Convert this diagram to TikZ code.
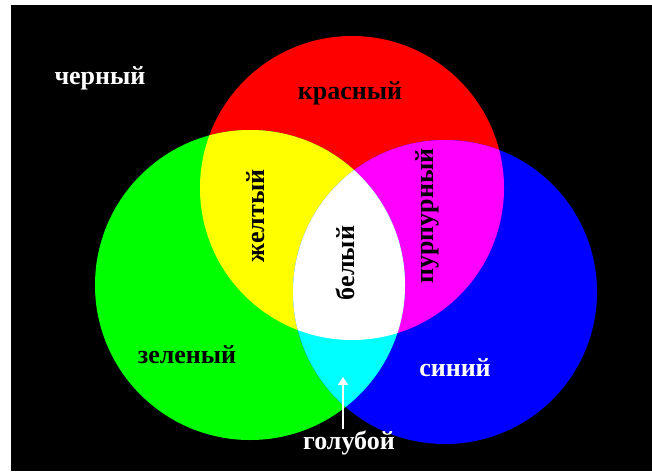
\documentclass[tikz,border=0pt]{standalone}
\usepackage{fontspec}
\setmainfont{Liberation Serif}
\usetikzlibrary{arrows.meta}
\definecolor{cR}{RGB}{255,0,0}
\definecolor{cG}{RGB}{0,255,0}
\definecolor{cB}{RGB}{0,0,255}
\definecolor{cY}{RGB}{255,255,0}
\definecolor{cM}{RGB}{255,0,255}
\definecolor{cC}{RGB}{0,255,255}
\definecolor{cW}{RGB}{255,255,255}
\definecolor{cK}{RGB}{0,0,0}
\begin{document}
\begin{tikzpicture}[x=1pt,y=-1pt,
  lbl/.style={font=\bfseries\fontsize{26}{28}\selectfont, inner sep=0pt},
  dark/.style={lbl, text=cK},
  light/.style={lbl, text=cW}]
\useasboundingbox (0,0) rectangle (652,471);
\fill[cW] (0,0) rectangle (652,471);
\fill[cK] (11,5) rectangle (652,471);
\def\redc{(352,188) circle[radius=152pt]}
\def\grnc{(250,285) circle[radius=155pt]}
\def\bluc{(445,292) circle[radius=152pt]}
% primaries
\fill[cR] \redc;
\fill[cG] \grnc;
\fill[cB] \bluc;
% red + green = yellow
\begin{scope}
  \clip \redc;
  \fill[cY] \grnc;
\end{scope}
% red + blue = magenta
\begin{scope}
  \clip \redc;
  \fill[cM] \bluc;
\end{scope}
% green + blue = cyan
\begin{scope}
  \clip \grnc;
  \fill[cC] \bluc;
\end{scope}
% all = white
\begin{scope}
  \clip \redc;
  \clip \grnc;
  \fill[cW] \bluc;
\end{scope}
% labels
\node[light] (cherny) at (100,78) {черный};
\node[dark] (krasny) at (350,93) {красный};
\node[dark, rotate=90] (zhelty) at (256,216) {желтый};
\node[dark, rotate=90] (purpurny) at (427,216) {пурпурный};
\node[dark, rotate=90] (bely) at (345,263) {белый};
\node[dark] (zeleny) at (187,355) {зеленый};
\node[light] (siny) at (455,368) {синий};
\node[light] (goluboy) at (349,443) {голубой};
\coordinate (tip) at (343,377);
\draw[cW, line width=1.6pt, -{Triangle[width=10pt,length=8pt]}] (goluboy.north -| tip) ++(0,-2) -- (tip);
\end{tikzpicture}
\end{document}
